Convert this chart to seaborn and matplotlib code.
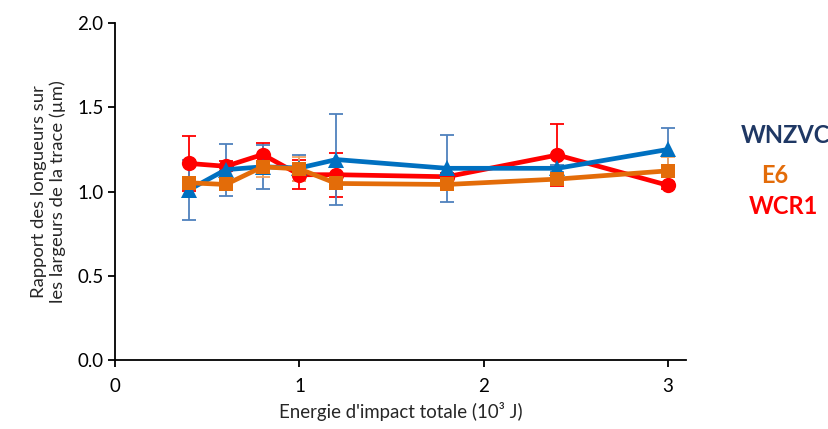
import matplotlib
matplotlib.use("Agg")
import matplotlib.pyplot as plt
import seaborn as sns
import pandas as pd

energy = [0.4, 0.6, 0.8, 1.0, 1.2, 1.8, 2.4, 3.0]
wcr1 = [1.167, 1.15, 1.22, 1.10, 1.10, 1.088, 1.217, 1.037]
wcr1_err = [0.165, 0.03, 0.07, 0.085, 0.13, 0.02, 0.185, 0.02]
wnzvc = [1.01, 1.13, 1.147, 1.14, 1.19, 1.138, 1.138, 1.25]
wnzvc_err = [0.18, 0.155, 0.13, 0.075, 0.27, 0.20, 0.02, 0.13]
e6 = [1.052, 1.042, 1.147, 1.134, 1.048, 1.042, 1.074, 1.123]
e6_err = [0.03, 0.02, 0.06, 0.07, 0.03, 0.02, 0.03, 0.08]

series = ["WCR1", "WNZVC", "E6"]
line_colors = {"WCR1": "#ff0000", "WNZVC": "#0070c0", "E6": "#e36c09"}
err_colors = {"WCR1": "#ff0000", "WNZVC": "#4f81bd", "E6": "#f4a460"}
label_colors = {"WNZVC": "#1f3864", "E6": "#e36c09", "WCR1": "#ff0000"}
markers = {"WCR1": "o", "WNZVC": "^", "E6": "s"}

df = pd.concat([
    pd.DataFrame({"x": energy, "y": wcr1, "err": wcr1_err, "s": "WCR1"}),
    pd.DataFrame({"x": energy, "y": wnzvc, "err": wnzvc_err, "s": "WNZVC"}),
    pd.DataFrame({"x": energy, "y": e6, "err": e6_err, "s": "E6"}),
])

sns.set_theme(style="white")
plt.rcParams["font.family"] = ["Lato", "DejaVu Sans"]

fig = plt.figure(figsize=(8.29, 4.29), dpi=100)
ax = fig.add_axes([0.139, 0.161, 0.689, 0.785])

for s in series:
    d = df[df.s == s]
    ax.errorbar(d.x, d.y, yerr=d.err, fmt="none", ecolor=err_colors[s],
                elinewidth=1.3, capsize=5, capthick=1.3, zorder=1)

for i, s in enumerate(series):
    d = df[df.s == s]
    sns.lineplot(data=d, x="x", y="y", ax=ax, color=line_colors[s],
                 marker=markers[s], markersize=11 if s != "E6" else 10,
                 markeredgewidth=0, linewidth=3.4, zorder=3 + i,
                 legend=False, errorbar=None)

ax.set_xlim(0, 3.1)
ax.set_ylim(0, 2.0)
ax.set_xticks([0, 1, 2, 3])
ax.set_yticks([0.0, 0.5, 1.0, 1.5, 2.0])
ax.set_yticklabels(["0.0", "0.5", "1.0", "1.5", "2.0"])
for sp in ["top", "right"]:
    ax.spines[sp].set_visible(False)
for sp in ["left", "bottom"]:
    ax.spines[sp].set_color("black")
    ax.spines[sp].set_linewidth(1.3)
ax.tick_params(axis="both", direction="out", length=5, width=1.3,
               colors="black", labelsize=13.5, left=True, bottom=True)
ax.tick_params(axis="x", pad=8)
ax.set_xlabel("Energie d'impact totale (10³ J)", fontsize=13.4, labelpad=5)
ax.set_ylabel("Rapport des longueurs sur\nles largeurs de la trace (µm)",
              fontsize=13.3, labelpad=8)

fig.text(785 / 829, 1 - 136 / 429, "WNZVC", color=label_colors["WNZVC"],
         fontsize=17, fontweight="bold", ha="center", va="center")
fig.text(775 / 829, 1 - 175 / 429, "E6", color=label_colors["E6"],
         fontsize=17, fontweight="bold", ha="center", va="center")
fig.text(783 / 829, 1 - 207 / 429, "WCR1", color=label_colors["WCR1"],
         fontsize=17, fontweight="bold", ha="center", va="center")

fig.savefig("out.png", dpi=100)
